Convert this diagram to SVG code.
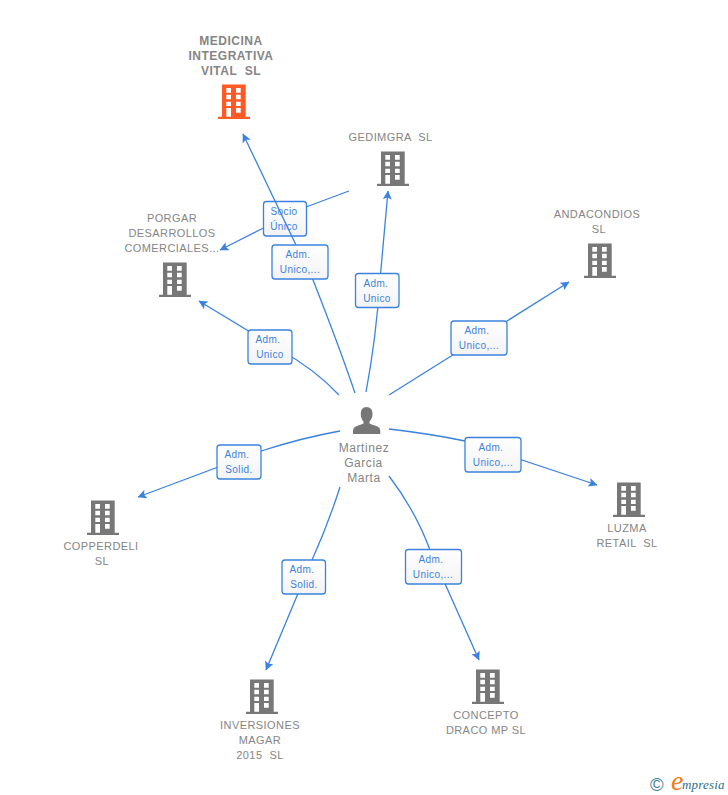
<svg xmlns="http://www.w3.org/2000/svg" width="728" height="795" viewBox="0 0 728 795">
<style>
.n{font:11px "Liberation Sans",Arial,sans-serif;fill:#858585;text-anchor:middle;letter-spacing:.42px;white-space:pre}
.h{font-weight:bold;font-size:12px;letter-spacing:.5px}
.p{font-size:12px;letter-spacing:.55px}
.c{fill:none;stroke:#3b82e0;stroke-width:1.3}
.a{fill:none;stroke:#3b82e0;stroke-width:1.3;marker-end:url(#ar)}
.b{fill:url(#bg);stroke:#3b82e0;stroke-width:1.3}
.t{font:10px "Liberation Sans",Arial,sans-serif;fill:#3b82e0;text-anchor:middle;letter-spacing:.4px}
</style>
<defs>
<linearGradient id="bg" x1="0" y1="0" x2="0" y2="1"><stop offset="0" stop-color="#fff"/><stop offset="1" stop-color="#f3f3f3"/></linearGradient>
<marker id="ar" markerUnits="userSpaceOnUse" markerWidth="12" markerHeight="12" refX="8.500" refY="4.500" orient="auto"><path d="M0 0L9 4.500L0 9L2 4.500Z" fill="#3b82e0"/></marker>
<symbol id="bld" width="32" height="35" viewBox="0 0 32 35" overflow="visible">
<path fill-rule="evenodd" d="M4 0.500H27.700V32.700H32V35H0V32.700H4ZM8.300 4V8.700H13V4ZM18 4V8.700H22.700V4ZM8.300 10.700V15.300H13V10.700ZM18 10.700V15.300H22.700V10.700ZM8.300 17.700V22H13V17.700ZM18 17.700V22H22.700V17.700ZM8.300 24V32.700H13V24ZM18 24V28.700H22.700V24Z"/>
</symbol>
</defs>
<rect width="728" height="795" fill="#fff"/>
<g id="label-socio"><rect class="b" x="263.500" y="201.500" width="43" height="34.500" rx="3"/><text class="t" x="284" y="215">Socio</text><text class="t" x="284" y="230">Único</text></g>
<g id="connectors">
<path class="a" d="M355 393C342 355 328 318 313 280L296 245L243 134"/>
<path class="c" d="M349 191L306 207"/>
<path class="a" d="M263.500 228L220 250"/>
<path class="a" d="M366 392C373 355 378 310 380 280L388 191"/>
<path class="a" d="M339 395C322 377 302 362 280 350L199 301"/>
<path class="a" d="M389 395L507 321L569 282"/>
<path class="a" d="M340 431C312 436 286 443 261 451L138 497"/>
<path class="a" d="M389 429C415 432 441 436 465 441L597 485"/>
<path class="a" d="M340 487C331 515 322 538 312 560L266 670"/>
<path class="a" d="M389 476C405 497 420 523 430 550L479 660"/>
</g>
<g id="label-medicina"><rect class="b" x="272" y="245" width="56" height="34" rx="3"/><text class="t" x="298" y="258">Adm.</text><text class="t" x="300" y="273">Unico,...</text></g>
<g id="label-gedimgra"><rect class="b" x="355.500" y="273.500" width="43.500" height="34" rx="3"/><text class="t" x="376" y="287">Adm.</text><text class="t" x="377" y="302">Unico</text></g>
<g id="label-porgar"><rect class="b" x="248" y="330" width="44" height="34" rx="3"/><text class="t" x="268" y="343">Adm.</text><text class="t" x="270" y="358">Unico</text></g>
<g id="label-andacondios"><rect class="b" x="451" y="321" width="56" height="34" rx="3"/><text class="t" x="477" y="334">Adm.</text><text class="t" x="479" y="349">Unico,...</text></g>
<g id="label-copperdeli"><rect class="b" x="217" y="445" width="44" height="34" rx="3"/><text class="t" x="237" y="458">Adm.</text><text class="t" x="239" y="473">Solid.</text></g>
<g id="label-luzma"><rect class="b" x="465" y="437.500" width="56" height="34.500" rx="3"/><text class="t" x="491" y="451">Adm.</text><text class="t" x="493" y="466">Unico,...</text></g>
<g id="label-inversiones"><rect class="b" x="282" y="560" width="43.500" height="34" rx="3"/><text class="t" x="302" y="573">Adm.</text><text class="t" x="304" y="588">Solid.</text></g>
<g id="label-concepto"><rect class="b" x="405.500" y="549.500" width="56" height="34.500" rx="3"/><text class="t" x="431" y="563">Adm.</text><text class="t" x="433" y="578">Unico,...</text></g>
<g id="node-medicina" fill="#ff5a26"><text class="n h" x="231" y="45">MEDICINA</text><text class="n h" x="231" y="60">INTEGRATIVA</text><text class="n h" x="231" y="75">VITAL  SL</text><use href="#bld" x="218" y="84"/></g>
<g id="node-gedimgra" fill="#777"><text class="n" x="390.500" y="141">GEDIMGRA  SL</text><use href="#bld" x="377" y="151"/></g>
<g id="node-porgar" fill="#777"><text class="n" x="172" y="222">PORGAR</text><text class="n" x="172" y="237">DESARROLLOS</text><text class="n" x="172" y="252">COMERCIALES...</text><use href="#bld" x="159" y="262"/></g>
<g id="node-andacondios" fill="#777"><text class="n" x="597" y="218">ANDACONDIOS</text><text class="n" x="599" y="233">SL</text><use href="#bld" x="584" y="243"/></g>
<g id="node-luzma" fill="#777"><use href="#bld" x="613" y="482"/><text class="n" x="627" y="532">LUZMA</text><text class="n" x="627" y="547">RETAIL  SL</text></g>
<g id="node-copperdeli" fill="#777"><use href="#bld" x="87" y="500"/><text class="n" x="101" y="550">COPPERDELI</text><text class="n" x="102" y="565">SL</text></g>
<g id="node-inversiones" fill="#777"><use href="#bld" x="246" y="679"/><text class="n" x="260" y="729">INVERSIONES</text><text class="n" x="260" y="744">MAGAR</text><text class="n" x="260" y="759">2015  SL</text></g>
<g id="node-concepto" fill="#777"><use href="#bld" x="472" y="669"/><text class="n" x="486" y="719">CONCEPTO</text><text class="n" x="486" y="734">DRACO MP SL</text></g>
<g id="node-person"><path fill="#777" d="M366.500 407C370.500 407 372.500 410 372.500 414C372.500 417.500 371 420 369.500 421.500V423.500C372 425 378 425.500 379.800 428.500C380.300 430 380.300 432 380.300 434H353C353 432 353 430 353.500 428.500C355.500 425.500 361 425 363.500 423.500V421.500C362 420 360.800 417.500 360.800 414C360.800 410 362.500 407 366.500 407Z"/><text class="n p" x="364" y="452">Martinez</text><text class="n p" x="363.500" y="467">Garcia</text><text class="n p" x="364" y="482">Marta</text></g>
<g id="logo"><text x="650" y="791" font-family="'Liberation Sans',sans-serif" font-size="18.500" fill="#3d7f95">©</text><text x="671" y="790" font-family="'Liberation Serif',serif" font-style="italic" font-size="28" fill="#f07c1a">e</text><text x="682" y="789" font-family="'Liberation Serif',serif" font-style="italic" font-size="13" letter-spacing=".2" fill="#2f7089">mpresia</text></g>
</svg>
